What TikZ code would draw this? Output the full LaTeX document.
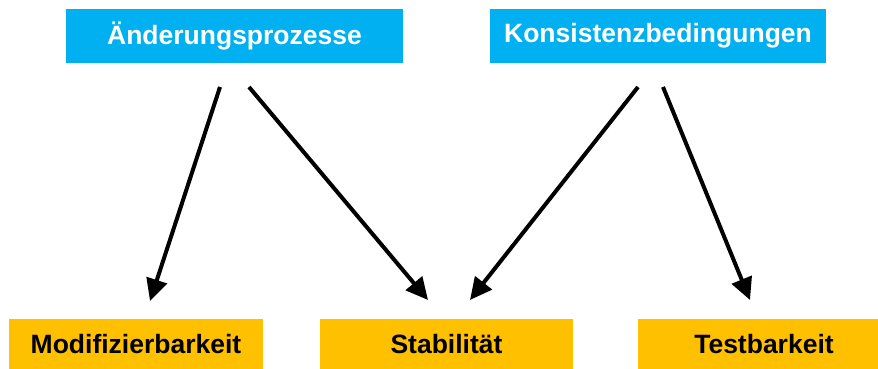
\documentclass[tikz,border=0pt]{standalone}
\usepackage{fontspec}
\setmainfont{Liberation Sans}
\usetikzlibrary{arrows.meta}
\definecolor{topblue}{HTML}{00B0F0}
\definecolor{botgold}{HTML}{FFC000}
\begin{document}
\begin{tikzpicture}[x=1pt,y=1pt,
  topbox/.style={fill=topblue,draw=none,minimum height=54pt,inner sep=0pt,text=white,font=\fontsize{26.5}{30}\selectfont\bfseries},
  botbox/.style={fill=botgold,draw=none,minimum height=50pt,inner sep=0pt,text=black,font=\fontsize{26.5}{30}\selectfont\bfseries},
  conn/.style={line width=4pt,-{Triangle[length=22pt,width=21pt]}}]
\useasboundingbox (0,0) rectangle (878,369);
\node[topbox,minimum width=337pt] (aend) at (234.5,333) {Änderungsprozesse};
\node[topbox,minimum width=336pt] (kons) at (658,333) {Konsistenzbedingungen};
\node[botbox,minimum width=254pt] (modi) at (136,25) {Modifizierbarkeit};
\node[botbox,minimum width=253pt] (stab) at (446.5,25) {Stabilität};
\node[botbox,minimum width=252pt] (test) at (764,25) {Testbarkeit};
\coordinate (a1) at (220,282);
\coordinate (a2) at (249,282);
\coordinate (k1) at (638,282);
\coordinate (k2) at (663,282);
\coordinate (m1) at (150,68);
\coordinate (s1) at (428,69);
\coordinate (s2) at (470,69);
\coordinate (t1) at (750,69);
\draw[conn] (a1) -- (m1);
\draw[conn] (a2) -- (s1);
\draw[conn] (k1) -- (s2);
\draw[conn] (k2) -- (t1);
\end{tikzpicture}
\end{document}
